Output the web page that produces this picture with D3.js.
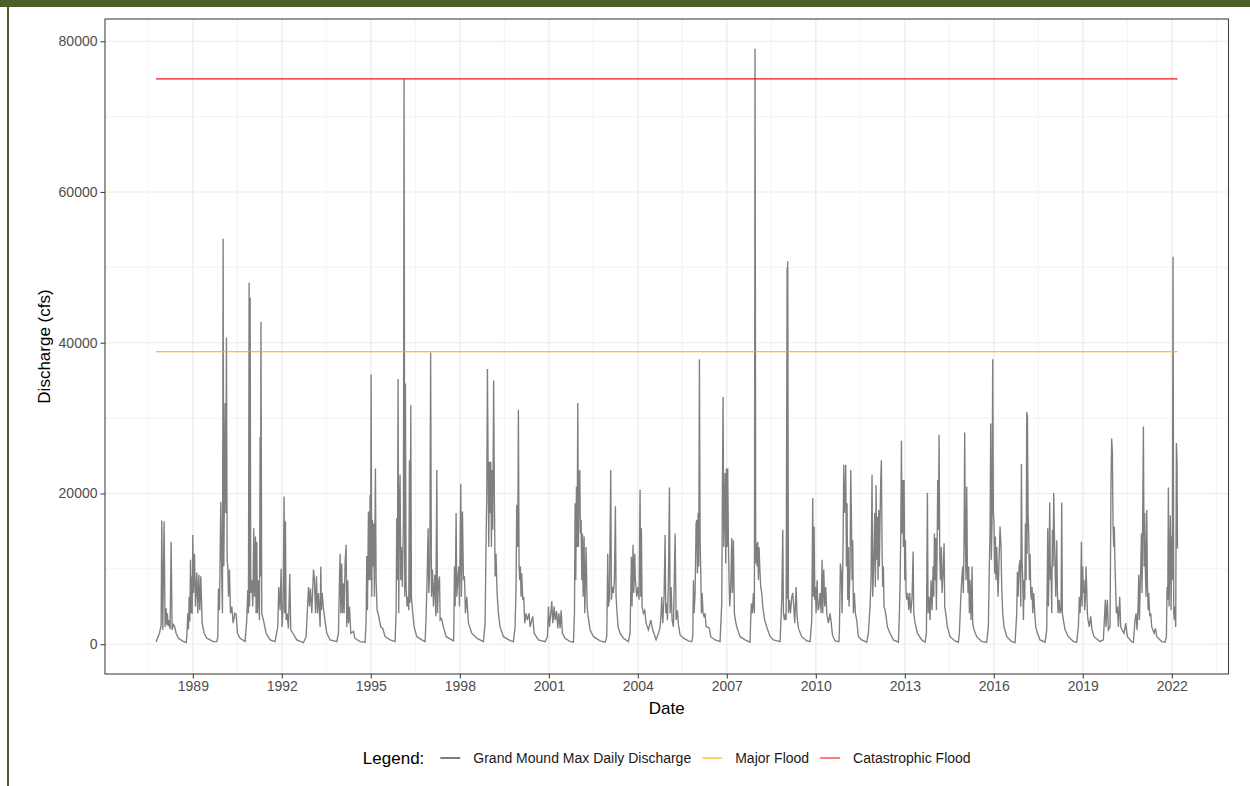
<!DOCTYPE html>
<html>
<head>
<meta charset="utf-8">
<script src="https://cdn.jsdelivr.net/npm/d3@7"></script>
<style>
  body { margin: 0; background: #fff; }
  svg { display: block; font-family: "Liberation Sans", Arial, sans-serif; }
</style>
</head>
<body>
<div id="chart"></div>
<script>
// Grand Mound max daily discharge.
// Each pair is [decimal year, cfs]; grouped by water year blocks.
const flowWY1988to1993 = [
  [1987.76, 300], [1987.875, 1460], [1987.931, 2500], [1987.953, 16400], [1987.987, 1900], [1988.032, 16300],
  [1988.066, 2300], [1988.099, 4800], [1988.122, 2600], [1988.144, 4100], [1988.167, 2400], [1988.189, 3200],
  [1988.234, 2000], [1988.268, 13600], [1988.302, 1900], [1988.347, 2600], [1988.391, 2300], [1988.436, 1460],
  [1988.515, 800], [1988.684, 350], [1988.773, 230],
  [1988.796, 1000], [1988.83, 4100], [1988.852, 2000], [1988.875, 6300], [1988.897, 3000], [1988.92, 11200],
  [1988.936, 4100], [1988.953, 9000], [1988.976, 4000], [1988.998, 14500], [1989.021, 6800], [1989.054, 12000],
  [1989.088, 5000], [1989.133, 9500], [1989.167, 4100], [1989.2, 9200], [1989.234, 4500], [1989.268, 9000],
  [1989.313, 2800], [1989.38, 1460], [1989.47, 800], [1989.695, 350], [1989.807, 350],
  [1989.841, 1000], [1989.863, 7400], [1989.897, 4500], [1989.942, 18900], [1989.976, 8500], [1989.998, 4100],
  [1990.021, 53800], [1990.043, 10300], [1990.066, 20500], [1990.088, 32000], [1990.111, 17400], [1990.133, 40700],
  [1990.156, 11200], [1990.178, 10300], [1990.201, 6300], [1990.234, 9900], [1990.268, 4100], [1990.313, 5000],
  [1990.358, 2800], [1990.414, 4100], [1990.459, 3900], [1990.504, 1460], [1990.594, 800], [1990.762, 350],
  [1990.818, 3200], [1990.852, 7200], [1990.874, 4100], [1990.897, 48000], [1990.914, 5000], [1990.931, 46000],
  [1990.953, 6800], [1990.987, 8500], [1991.021, 5000], [1991.054, 15400], [1991.077, 6300], [1991.111, 14300],
  [1991.133, 4100], [1991.156, 13600], [1991.178, 4100], [1991.212, 8500], [1991.246, 3200], [1991.268, 27500],
  [1991.279, 9000], [1991.296, 42800], [1991.324, 4100], [1991.38, 3200], [1991.47, 1460], [1991.605, 570],
  [1991.773, 350],
  [1991.863, 2300], [1991.897, 7600], [1991.942, 4500], [1991.976, 10000], [1992.009, 2300], [1992.043, 4800],
  [1992.077, 19600], [1992.099, 4100], [1992.122, 16300], [1992.144, 3200], [1992.178, 4100], [1992.223, 2100],
  [1992.268, 9300], [1992.302, 1900], [1992.369, 1460], [1992.504, 570], [1992.729, 220],
  [1992.818, 1000], [1992.897, 7600], [1992.931, 5000], [1992.964, 7400], [1993.009, 4100], [1993.066, 9900],
  [1993.099, 8500], [1993.133, 4100], [1993.167, 9000], [1993.2, 4100], [1993.234, 6800], [1993.29, 2300],
  [1993.312, 10300], [1993.335, 4500], [1993.36, 6800], [1993.4, 4800], [1993.45, 3200], [1993.515, 1460],
  [1993.627, 570], [1993.852, 350]
];

const flowWY1994to1999 = [
  [1993.908, 1460], [1993.942, 8500], [1993.964, 12000], [1993.987, 4100], [1994.02, 10700], [1994.043, 4100],
  [1994.077, 8100], [1994.099, 4100], [1994.133, 11000], [1994.166, 13200], [1994.189, 2300], [1994.223, 8500],
  [1994.245, 2800], [1994.279, 5000], [1994.324, 1460], [1994.414, 1700], [1994.459, 800], [1994.638, 350],
  [1994.807, 270],
  [1994.841, 3200], [1994.863, 11700], [1994.886, 4500], [1994.919, 17600], [1994.942, 8500], [1994.975, 19800],
  [1994.992, 8500], [1995.009, 35800], [1995.032, 6300], [1995.054, 16500], [1995.077, 10300], [1995.099, 16000],
  [1995.121, 6300], [1995.155, 23300], [1995.178, 8500], [1995.211, 4500], [1995.245, 4100], [1995.29, 3200],
  [1995.335, 2300], [1995.402, 2100], [1995.481, 1000], [1995.65, 570], [1995.818, 350],
  [1995.852, 4100], [1995.874, 16700], [1995.897, 8500], [1995.919, 35200], [1995.942, 4100], [1995.964, 18300],
  [1995.987, 22500], [1996.009, 8500], [1996.032, 12900], [1996.065, 7600], [1996.099, 16500], [1996.121, 75000],
  [1996.144, 6300], [1996.166, 34600], [1996.189, 7600], [1996.223, 5000], [1996.256, 6300], [1996.279, 4500],
  [1996.301, 24400], [1996.324, 5500], [1996.346, 31700], [1996.369, 6300], [1996.414, 4100], [1996.459, 2300],
  [1996.548, 1000], [1996.717, 570], [1996.829, 350],
  [1996.863, 3700], [1996.897, 9000], [1996.93, 15400], [1996.953, 6800], [1996.987, 10300], [1997.015, 38700],
  [1997.043, 6300], [1997.077, 9900], [1997.11, 5000], [1997.155, 9200], [1997.189, 3700], [1997.223, 23100],
  [1997.245, 4100], [1997.279, 8100], [1997.313, 9000], [1997.335, 3200], [1997.38, 3400], [1997.447, 2300],
  [1997.537, 1000], [1997.728, 570], [1997.784, 440],
  [1997.796, 1460], [1997.818, 10300], [1997.841, 5000], [1997.874, 17400], [1997.897, 6300], [1997.93, 8500],
  [1997.964, 10300], [1997.987, 5000], [1998.032, 21300], [1998.054, 6300], [1998.088, 17600], [1998.121, 8500],
  [1998.155, 9000], [1998.189, 4100], [1998.234, 6300], [1998.29, 2800], [1998.402, 1460], [1998.571, 800],
  [1998.796, 350],
  [1998.852, 2800], [1998.885, 13800], [1998.908, 19600], [1998.93, 36500], [1998.953, 24000], [1998.975, 12900],
  [1998.998, 24200], [1999.02, 17400], [1999.043, 24200], [1999.065, 12900], [1999.088, 23100], [1999.11, 15200],
  [1999.14, 35000], [1999.165, 19600], [1999.19, 9000], [1999.22, 12000], [1999.256, 6800], [1999.3, 4100],
  [1999.357, 2300], [1999.47, 1000], [1999.694, 490], [1999.806, 350]
];

const flowWY2000to2005 = [
  [1999.863, 2300], [1999.896, 7600], [1999.919, 18500], [1999.953, 12900], [1999.975, 31100], [1999.998, 10300],
  [2000.02, 8500], [2000.042, 10300], [2000.065, 6300], [2000.087, 9400], [2000.121, 5900], [2000.155, 6300],
  [2000.189, 2800], [2000.233, 4100], [2000.278, 3200], [2000.335, 4100], [2000.368, 2300], [2000.458, 3700],
  [2000.503, 1460], [2000.649, 570], [2000.874, 350],
  [2000.953, 1000], [2000.986, 5000], [2001.02, 2300], [2001.065, 4100], [2001.099, 5700], [2001.132, 2800],
  [2001.177, 5000], [2001.211, 3200], [2001.256, 4400], [2001.301, 2100], [2001.335, 4100], [2001.38, 2100],
  [2001.413, 4500], [2001.458, 1460], [2001.548, 800], [2001.717, 350], [2001.829, 270],
  [2001.863, 4100], [2001.885, 18700], [2001.908, 8500], [2001.93, 20900], [2001.953, 12900], [2001.975, 32000],
  [2001.998, 12900], [2002.02, 22700], [2002.042, 23100], [2002.065, 14700], [2002.087, 16500], [2002.11, 8500],
  [2002.132, 14700], [2002.155, 6300], [2002.189, 14300], [2002.211, 4100], [2002.256, 12900], [2002.29, 5000],
  [2002.323, 3700], [2002.391, 1900], [2002.503, 1000], [2002.728, 440], [2002.896, 270],
  [2002.953, 1000], [2002.986, 12000], [2003.009, 5000], [2003.042, 5900], [2003.087, 23100], [2003.11, 5900],
  [2003.143, 7600], [2003.177, 6800], [2003.211, 8500], [2003.245, 18300], [2003.267, 6300], [2003.301, 4100],
  [2003.335, 2300], [2003.402, 1460], [2003.514, 800], [2003.683, 350],
  [2003.739, 1460], [2003.784, 11600], [2003.806, 5000], [2003.84, 13200], [2003.863, 6800], [2003.896, 12000],
  [2003.919, 8500], [2003.964, 6300], [2004.009, 7600], [2004.042, 5900], [2004.076, 20500], [2004.099, 6300],
  [2004.121, 15400], [2004.143, 5000], [2004.188, 4100], [2004.233, 4500], [2004.278, 2800], [2004.357, 1900],
  [2004.436, 3200], [2004.503, 1900], [2004.616, 600],
  [2004.7, 1500], [2004.75, 2300], [2004.784, 4100], [2004.806, 6300], [2004.84, 2800], [2004.885, 6500],
  [2004.919, 14500], [2004.941, 4100], [2004.975, 5400], [2004.997, 3200], [2005.031, 8500], [2005.065, 20800],
  [2005.087, 4100], [2005.121, 7600], [2005.154, 3200], [2005.199, 2300], [2005.256, 14700], [2005.289, 3200],
  [2005.334, 4500], [2005.368, 2600], [2005.424, 1240], [2005.537, 800], [2005.705, 440], [2005.817, 350]
];

const flowWY2006to2011 = [
  [2005.851, 1000], [2005.874, 8500], [2005.896, 4100], [2005.93, 6800], [2005.963, 16000], [2005.986, 16500],
  [2006.008, 9400], [2006.031, 17400], [2006.053, 10300], [2006.076, 37800], [2006.098, 14300], [2006.121, 9400],
  [2006.143, 4100], [2006.166, 6800], [2006.199, 4100], [2006.233, 3700], [2006.267, 4100], [2006.301, 2300],
  [2006.346, 2300], [2006.413, 2100], [2006.458, 1000], [2006.604, 570], [2006.772, 350],
  [2006.829, 5400], [2006.851, 20500], [2006.874, 32800], [2006.896, 12900], [2006.918, 17400], [2006.941, 22700],
  [2006.963, 10700], [2006.986, 23300], [2007.008, 12900], [2007.031, 23300], [2007.053, 13800], [2007.076, 8500],
  [2007.098, 5000], [2007.132, 7600], [2007.166, 14100], [2007.188, 6800], [2007.222, 13800], [2007.256, 4100],
  [2007.289, 3200], [2007.334, 2300], [2007.447, 1000], [2007.615, 570], [2007.784, 270],
  [2007.806, 3200], [2007.829, 5400], [2007.862, 4100], [2007.896, 6800], [2007.93, 4100], [2007.952, 79000],
  [2007.975, 10700], [2007.997, 13400], [2008.02, 10300], [2008.042, 13600], [2008.065, 8500], [2008.087, 12900],
  [2008.11, 10300], [2008.143, 7600], [2008.177, 6800], [2008.211, 5000], [2008.244, 4100], [2008.278, 3200],
  [2008.346, 2300], [2008.458, 1000], [2008.57, 570], [2008.795, 350],
  [2008.851, 5900], [2008.885, 15200], [2008.907, 4100], [2008.941, 3200], [2008.975, 4100], [2008.997, 3200],
  [2009.031, 50000], [2009.042, 6000], [2009.053, 50800], [2009.076, 4100], [2009.11, 5900], [2009.143, 4100],
  [2009.188, 6300], [2009.222, 6800], [2009.256, 5000], [2009.289, 2800], [2009.334, 7600], [2009.368, 3700],
  [2009.413, 2100], [2009.525, 1000], [2009.694, 440], [2009.806, 350],
  [2009.862, 3200], [2009.896, 19400], [2009.918, 6300], [2009.941, 15600], [2009.963, 5900], [2009.986, 7600],
  [2010.008, 4100], [2010.042, 8500], [2010.076, 4500], [2010.109, 5000], [2010.143, 6800], [2010.177, 4100],
  [2010.211, 11200], [2010.233, 4100], [2010.267, 9900], [2010.301, 5000], [2010.334, 7600], [2010.368, 4100],
  [2010.424, 2800], [2010.48, 4100], [2010.52, 2800], [2010.56, 1200], [2010.65, 450], [2010.78, 350],
  [2010.795, 1900], [2010.828, 10700], [2010.862, 9400], [2010.884, 4100], [2010.918, 12900], [2010.941, 23800],
  [2010.963, 17400], [2010.986, 19100], [2011.008, 23800], [2011.031, 10300], [2011.053, 18700], [2011.075, 5900],
  [2011.098, 12900], [2011.12, 5000], [2011.154, 10300], [2011.177, 23100], [2011.199, 17400], [2011.222, 8500],
  [2011.244, 13800], [2011.267, 4100], [2011.3, 6800], [2011.334, 4100], [2011.379, 3200], [2011.435, 1000],
  [2011.547, 570], [2011.716, 270]
];

const flowWY2012to2017 = [
  [2011.772, 1460], [2011.828, 5000], [2011.862, 8500], [2011.896, 22500], [2011.918, 6300], [2011.952, 10700],
  [2011.986, 17400], [2012.008, 7600], [2012.031, 21100], [2012.053, 11200], [2012.075, 16900], [2012.098, 8500],
  [2012.12, 17800], [2012.143, 10300], [2012.165, 16500], [2012.188, 21800], [2012.21, 24400], [2012.233, 12900],
  [2012.255, 7600], [2012.278, 10300], [2012.3, 5000], [2012.334, 4500], [2012.368, 3700], [2012.413, 2300],
  [2012.502, 1460], [2012.615, 570], [2012.783, 270],
  [2012.817, 4100], [2012.84, 8500], [2012.862, 14300], [2012.884, 27000], [2012.907, 14700], [2012.929, 21800],
  [2012.952, 12900], [2012.974, 21800], [2012.997, 8500], [2013.019, 13800], [2013.042, 6800], [2013.064, 5900],
  [2013.098, 6800], [2013.132, 4500], [2013.165, 6800], [2013.199, 4100], [2013.244, 6300], [2013.278, 12300],
  [2013.3, 4100], [2013.345, 2800], [2013.424, 1460], [2013.57, 570], [2013.682, 270],
  [2013.727, 1460], [2013.761, 20100], [2013.783, 4100], [2013.817, 6300], [2013.851, 3200], [2013.884, 8500],
  [2013.918, 4500], [2013.952, 10300], [2013.974, 6300], [2013.997, 14700], [2014.019, 8500], [2014.042, 14100],
  [2014.064, 4500], [2014.087, 12500], [2014.109, 21800], [2014.132, 15200], [2014.154, 27800], [2014.177, 12000],
  [2014.199, 8500], [2014.233, 12900], [2014.255, 6800], [2014.289, 9400], [2014.323, 13400], [2014.345, 5000],
  [2014.379, 4100], [2014.435, 2300], [2014.525, 1000], [2014.694, 440], [2014.806, 270],
  [2014.84, 1460], [2014.884, 5900], [2014.918, 8500], [2014.952, 10300], [2014.974, 6800], [2014.997, 13600],
  [2015.019, 28100], [2015.042, 13800], [2015.064, 8500], [2015.087, 20900], [2015.109, 10300], [2015.132, 6800],
  [2015.154, 10300], [2015.177, 4100], [2015.199, 8500], [2015.233, 3200], [2015.267, 10300], [2015.289, 2800],
  [2015.334, 1900], [2015.424, 1000], [2015.592, 350], [2015.761, 270],
  [2015.817, 2300], [2015.851, 10700], [2015.873, 14700], [2015.896, 29300], [2015.918, 11200], [2015.941, 16500],
  [2015.963, 37800], [2015.986, 17400], [2016.008, 16000], [2016.03, 9400], [2016.053, 14300], [2016.075, 8500],
  [2016.098, 12900], [2016.12, 10300], [2016.143, 6300], [2016.165, 9400], [2016.21, 15600], [2016.244, 12900],
  [2016.266, 7600], [2016.3, 4100], [2016.345, 2300], [2016.435, 1000], [2016.603, 350], [2016.716, 220],
  [2016.772, 4100], [2016.794, 9600], [2016.817, 6300], [2016.85, 10300], [2016.884, 11200], [2016.907, 5000],
  [2016.929, 23900], [2016.952, 11200], [2016.974, 8500], [2016.997, 3200], [2017.019, 8500], [2017.041, 5900],
  [2017.064, 16000], [2017.086, 8500], [2017.109, 30800], [2017.12, 12000], [2017.131, 30500], [2017.154, 17400],
  [2017.176, 14700], [2017.199, 8500], [2017.221, 12000], [2017.244, 6800], [2017.266, 5900], [2017.289, 7600],
  [2017.311, 4100], [2017.345, 6800], [2017.379, 4100], [2017.412, 2300], [2017.468, 1460], [2017.558, 570],
  [2017.727, 270]
];

const flowWY2018to2022 = [
  [2017.783, 1900], [2017.817, 15400], [2017.839, 5000], [2017.862, 10300], [2017.884, 18800], [2017.907, 8500],
  [2017.929, 10300], [2017.952, 4100], [2017.974, 15200], [2017.997, 10300], [2018.019, 20100], [2018.041, 14700],
  [2018.064, 10300], [2018.086, 6300], [2018.12, 13800], [2018.143, 6800], [2018.165, 4100], [2018.199, 5900],
  [2018.232, 4100], [2018.266, 4500], [2018.289, 18800], [2018.311, 4100], [2018.345, 3200], [2018.401, 1900],
  [2018.513, 1000], [2018.682, 350], [2018.794, 270],
  [2018.85, 2300], [2018.884, 6300], [2018.907, 4100], [2018.929, 6300], [2018.952, 13600], [2018.974, 5000],
  [2018.997, 10300], [2019.019, 6800], [2019.041, 8500], [2019.064, 4500], [2019.086, 5900], [2019.109, 10300],
  [2019.131, 7600], [2019.154, 4100], [2019.176, 3200], [2019.221, 2300], [2019.266, 3700], [2019.311, 1900],
  [2019.378, 1000], [2019.581, 350], [2019.693, 570], [2019.727, 3200], [2019.76, 5900], [2019.783, 2300],
  [2019.828, 5900], [2019.862, 1900],
  [2019.918, 2300], [2019.952, 21800], [2019.974, 27300], [2019.997, 25500], [2020.019, 16000], [2020.041, 12900],
  [2020.064, 15600], [2020.086, 10300], [2020.109, 7200], [2020.131, 4100], [2020.165, 5000], [2020.199, 2300],
  [2020.244, 6300], [2020.277, 2300], [2020.322, 1900], [2020.39, 1460], [2020.446, 2800], [2020.502, 1000],
  [2020.648, 350], [2020.704, 270],
  [2020.76, 3200], [2020.794, 4100], [2020.828, 1900], [2020.862, 5000], [2020.884, 9200], [2020.907, 3200],
  [2020.929, 6800], [2020.952, 10300], [2020.974, 14700], [2020.996, 6800], [2021.019, 17800], [2021.041, 28900],
  [2021.064, 10300], [2021.086, 17400], [2021.109, 9400], [2021.131, 6300], [2021.154, 17800], [2021.176, 8500],
  [2021.199, 4500], [2021.221, 6800], [2021.255, 3700], [2021.289, 4100], [2021.322, 2300], [2021.401, 1460],
  [2021.446, 2100], [2021.491, 1000], [2021.659, 350], [2021.772, 270],
  [2021.817, 1000], [2021.839, 7600], [2021.862, 5900], [2021.884, 20800], [2021.907, 5000], [2021.929, 11200],
  [2021.951, 17100], [2021.974, 4500], [2021.996, 14300], [2022.019, 8500], [2022.041, 51400], [2022.064, 4100],
  [2022.086, 3200], [2022.109, 5000], [2022.131, 2300], [2022.154, 26700], [2022.176, 24200], [2022.19, 12700]
];

const majorFlood = 38800;
const catastrophicFlood = 75000;
const yTicks = [0, 20000, 40000, 60000, 80000];
const yMinorTicks = [10000, 30000, 50000, 70000];
const xTickYears = [1989, 1992, 1995, 1998, 2001, 2004, 2007, 2010, 2013, 2016, 2019, 2022];
const legendTitle = 'Legend:';
const seriesNames = ['Grand Mound Max Daily Discharge', 'Major Flood', 'Catastrophic Flood'];
const seriesColors = ['#7f7f7f', '#ffa500', '#e8141c'];
const keyColors = ['#5e5e5e', '#ffc44d', '#ff5c5c'];

const [svgWidth, svgHeight] = [1250, 786];
const margin = { left: 105, right: 21.5, top: 19, bottom: 112 };
const [width, height] = [svgWidth - margin.left - margin.right, svgHeight - margin.top - margin.bottom];

function translate(x, y) {
  return 'translate(' + x + ',' + y + ')';
}

// decimal year -> Date
function yearToDate(y) {
  const yr = Math.floor(y);
  const a = new Date(yr, 0, 1), b = new Date(yr + 1, 0, 1);
  return new Date(+a + (y - yr) * (b - a));
}

const flows = [].concat(flowWY1988to1993, flowWY1994to1999, flowWY2000to2005,
  flowWY2006to2011, flowWY2012to2017, flowWY2018to2022)
  .map(d => ({ date: yearToDate(d[0]), year: d[0], cfs: d[1] }));

// ggplot style 5% expansion
const xExt = d3.extent(flows, d => d.year);
const xPad = (xExt[1] - xExt[0]) * 0.05;
const yTop = d3.max(flows, d => d.cfs);
const yPad = yTop * 0.05;

const xScale = d3.scaleTime()
  .domain([yearToDate(xExt[0] - xPad), yearToDate(xExt[1] + xPad)])
  .range([0, width]);
const yScale = d3.scaleLinear()
  .domain([-yPad, yTop + yPad])
  .range([height, 0]);

const svg = d3.select('#chart').append('svg')
  .attr('width', svgWidth)
  .attr('height', svgHeight);

// page frame
svg.append('rect').attr('x', 0).attr('y', 0).attr('width', svgWidth).attr('height', 7).attr('fill', '#505f2a');
svg.append('rect').attr('x', 7).attr('y', 0).attr('width', 2).attr('height', svgHeight).attr('fill', '#505f2a');

const chart = svg.append('g').attr('transform', translate(margin.left, margin.top));

// minor grid
const xMinor = d3.range(xTickYears[0] - 1.5, xTickYears[xTickYears.length - 1] + 3, 3)
  .map(yearToDate)
  .filter(d => d >= xScale.domain()[0] && d <= xScale.domain()[1]);
chart.append('g').selectAll('line').data(xMinor).enter().append('line')
  .attr('x1', d => xScale(d)).attr('x2', d => xScale(d))
  .attr('y1', 0).attr('y2', height)
  .attr('stroke', '#f2f2f2').attr('stroke-width', 0.9);
chart.append('g').selectAll('line').data(yMinorTicks).enter().append('line')
  .attr('x1', 0).attr('x2', width)
  .attr('y1', d => yScale(d)).attr('y2', d => yScale(d))
  .attr('stroke', '#f2f2f2').attr('stroke-width', 0.9);

// major grid
chart.append('g').selectAll('line').data(xTickYears).enter().append('line')
  .attr('x1', d => xScale(yearToDate(d))).attr('x2', d => xScale(yearToDate(d)))
  .attr('y1', 0).attr('y2', height)
  .attr('stroke', '#ebebeb').attr('stroke-width', 1.2);
chart.append('g').selectAll('line').data(yTicks).enter().append('line')
  .attr('x1', 0).attr('x2', width)
  .attr('y1', d => yScale(d)).attr('y2', d => yScale(d))
  .attr('stroke', '#ebebeb').attr('stroke-width', 1.2);

// discharge series
const line = d3.line()
  .x(d => xScale(d.date))
  .y(d => yScale(d.cfs));
chart.append('path')
  .datum(flows)
  .attr('d', line)
  .attr('fill', 'none')
  .attr('stroke', seriesColors[0])
  .attr('stroke-width', 1.35)
  .attr('stroke-linejoin', 'miter');

// flood thresholds
const x0 = xScale(flows[0].date), x1 = xScale(flows[flows.length - 1].date);
[[majorFlood, seriesColors[1]], [catastrophicFlood, seriesColors[2]]].forEach(([v, c]) => {
  chart.append('line')
    .attr('x1', x0).attr('x2', x1)
    .attr('y1', yScale(v)).attr('y2', yScale(v))
    .attr('stroke', c).attr('stroke-width', 1.1);
});

// panel border
chart.append('rect')
  .attr('width', width).attr('height', height)
  .attr('fill', 'none').attr('stroke', '#444').attr('stroke-width', 1.1);

// axes
const xAxis = chart.append('g').attr('transform', translate(0, height))
  .call(d3.axisBottom(xScale)
    .tickValues(xTickYears.map(yearToDate))
    .tickFormat(d3.timeFormat('%Y'))
    .tickSize(4.5).tickPadding(3));
const yAxis = chart.append('g')
  .call(d3.axisLeft(yScale).tickValues(yTicks).tickFormat(d3.format('d')).tickSize(4.5).tickPadding(3));
[xAxis, yAxis].forEach(ax => {
  ax.select('.domain').remove();
  ax.selectAll('.tick line').attr('stroke', '#444').attr('stroke-width', 1.1);
  ax.selectAll('.tick text')
    .attr('fill', '#4d4d4d')
    .style('font-family', '"Liberation Sans", Arial, sans-serif')
    .style('font-size', '14px');
});

// axis titles
svg.append('text')
  .attr('x', margin.left + width / 2).attr('y', 714)
  .attr('text-anchor', 'middle')
  .style('font-size', '17px')
  .text('Date');
svg.append('text')
  .attr('transform', translate(50, margin.top + height / 2) + ' rotate(-90)')
  .attr('text-anchor', 'middle')
  .style('font-size', '17px')
  .text('Discharge (cfs)');

// legend
const legend = svg.append('g');
const legendY = 758;
const title = legend.append('text')
  .attr('x', 0).attr('y', legendY + 6)
  .style('font-size', '17px')
  .text(legendTitle);
let cursor = title.node().getComputedTextLength() + 16;
seriesNames.forEach((name, i) => {
  legend.append('line')
    .attr('x1', cursor).attr('x2', cursor + 20)
    .attr('y1', legendY).attr('y2', legendY)
    .attr('stroke', keyColors[i]).attr('stroke-width', 1.6);
  cursor += 20 + 13;
  const t = legend.append('text')
    .attr('x', cursor).attr('y', legendY + 5)
    .style('font-size', '14px')
    .attr('fill', '#1a1a1a')
    .text(name);
  cursor += t.node().getComputedTextLength() + 11;
});
cursor -= 11;
legend.attr('transform', translate(margin.left + width / 2 - cursor / 2, 0));
</script>
</body>
</html>
